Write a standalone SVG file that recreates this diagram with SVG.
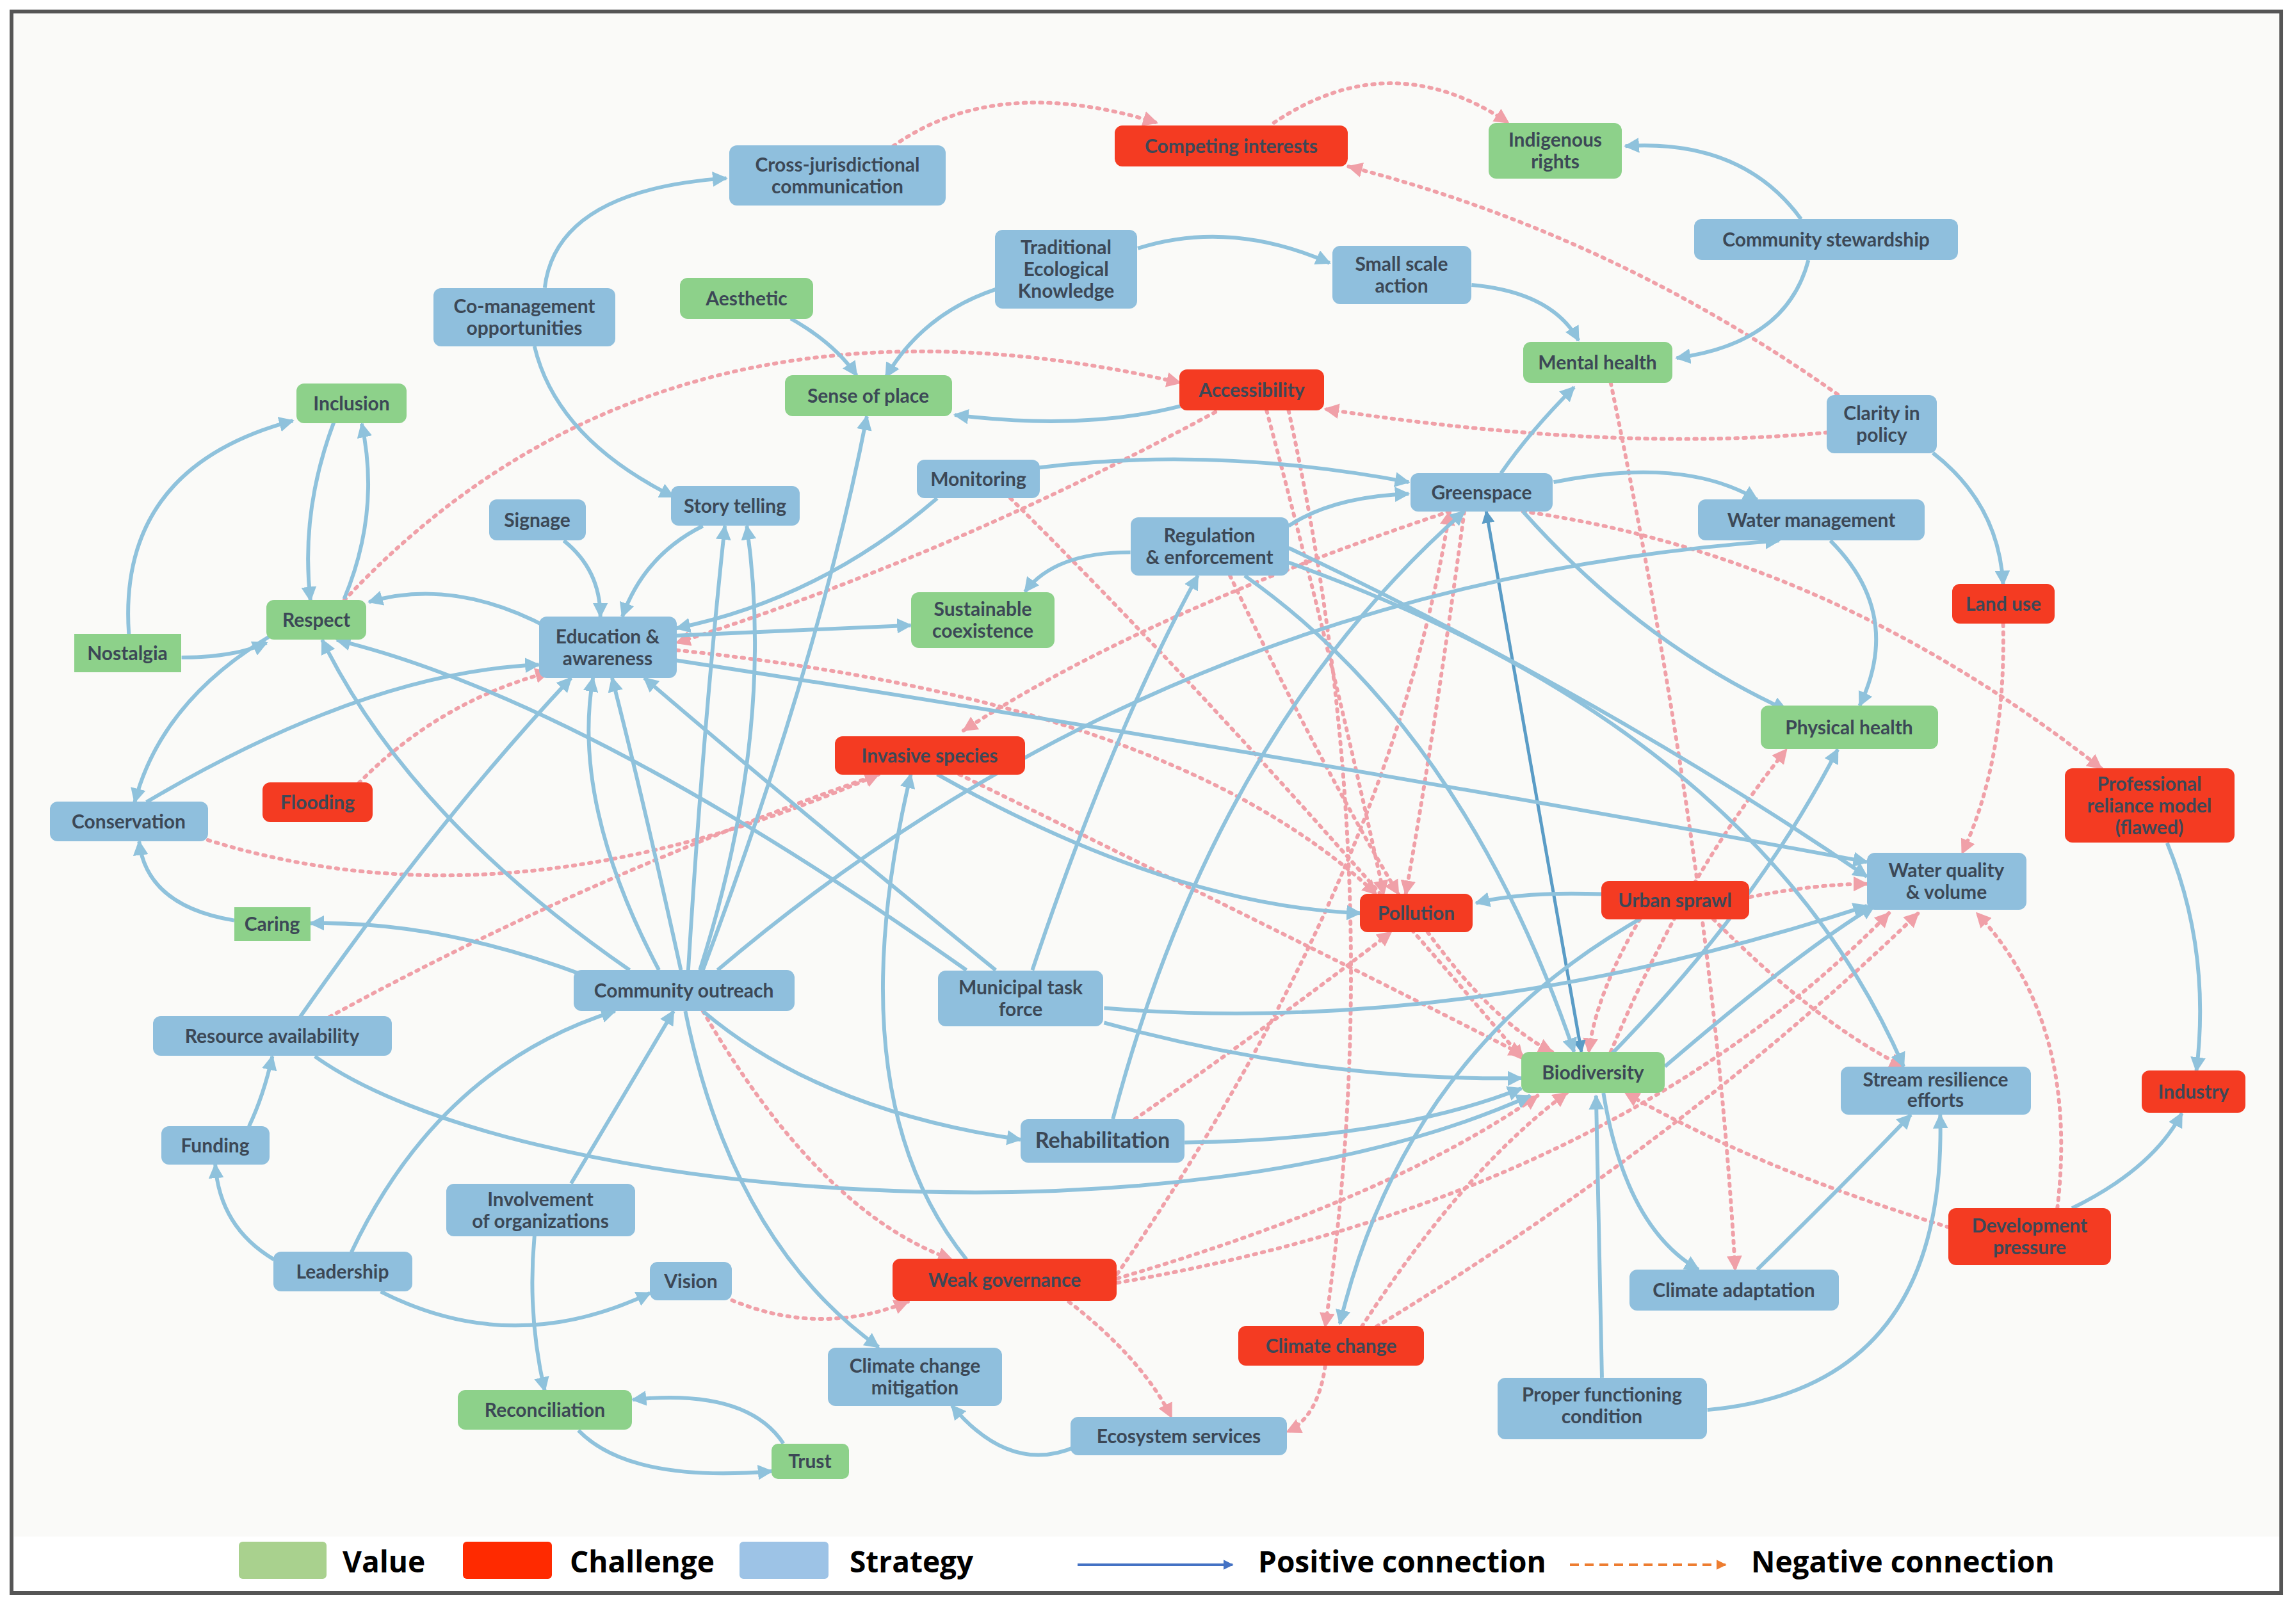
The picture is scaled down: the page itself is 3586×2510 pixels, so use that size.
<svg xmlns="http://www.w3.org/2000/svg" width="3586" height="2510" viewBox="0 0 3586 2510">
<style>
.v{fill:#8dd18a}.c{fill:#f43b22}.s{fill:#8fbfdd}
.t{font-family:Lato,"Open Sans",sans-serif;font-weight:bold;font-size:30px;fill:#3c4856;text-anchor:middle}
.p{fill:none;stroke:#8fc2dc;stroke-width:2.6;marker-end:url(#ab)}
.n{fill:none;stroke:#f0a0a8;stroke-width:2.6;stroke-dasharray:1.6 4;stroke-linecap:round;marker-end:url(#ar)}
.lg{font-family:"Open Sans",sans-serif;font-weight:bold;font-size:46px;fill:#000}
</style>
<defs>
<marker id="ab" viewBox="0 0 10 10" refX="9" refY="5" markerWidth="4" markerHeight="4" orient="auto"><path d="M0,0L10,5L0,10z" fill="#8fc2dc"/></marker>
<marker id="ar" viewBox="0 0 10 10" refX="9" refY="5" markerWidth="4" markerHeight="4" orient="auto"><path d="M0,0L10,5L0,10z" fill="#f0a0a8"/></marker>
<marker id="ad" viewBox="0 0 10 10" refX="9" refY="5" markerWidth="4" markerHeight="4" orient="auto-start-reverse"><path d="M0,0L10,5L0,10z" fill="#5a9cc6"/></marker>
<marker id="lb" viewBox="0 0 10 10" refX="9" refY="5" markerWidth="4" markerHeight="4" orient="auto"><path d="M0,0L10,5L0,10z" fill="#4472c4"/></marker>
<marker id="lo" viewBox="0 0 10 10" refX="9" refY="5" markerWidth="4" markerHeight="4" orient="auto"><path d="M0,0L10,5L0,10z" fill="#ed7d31"/></marker>
</defs>
<rect x="0" y="0" width="3586" height="2510" fill="#fff"/>
<rect x="22" y="22" width="3538" height="2378" fill="#fafaf8"/>
<rect x="18" y="18" width="3545" height="2470" fill="none" stroke="#555" stroke-width="6"/>
<g id="connectors" transform="scale(2.287 2.282)">
<path class="n" d="M610,100 Q680,50 790,84"/>
<path class="n" d="M870,84 Q950,30 1030,84"/>
<path class="n" d="M1255,270 Q1100,160 921,114"/>
<path class="n" d="M1248,296 Q1100,310 905,280"/>
<path class="n" d="M235,411 Q450,180 806,262"/>
<path class="n" d="M830,282 Q650,380 462,440"/>
<path class="n" d="M865,281 Q910,450 945,612"/>
<path class="n" d="M880,281 Q950,600 905,908"/>
<path class="n" d="M245,536 Q300,480 375,460"/>
<path class="n" d="M142,575 Q350,640 600,530"/>
<path class="n" d="M225,696 Q400,600 600,530"/>
<path class="n" d="M990,350 Q780,420 658,500"/>
<path class="n" d="M462,445 Q800,480 940,612"/>
<path class="n" d="M690,341 Q850,500 1040,725"/>
<path class="n" d="M655,530 Q900,650 1040,722"/>
<path class="n" d="M840,394 Q900,520 955,612"/>
<path class="n" d="M763,872 Q950,600 990,350"/>
<path class="n" d="M763,878 Q1100,820 1290,625"/>
<path class="n" d="M763,875 Q950,820 1050,750"/>
<path class="n" d="M730,891 Q780,930 800,970"/>
<path class="n" d="M500,890 Q560,915 620,891"/>
<path class="n" d="M480,692 Q560,830 650,862"/>
<path class="n" d="M775,766 Q870,700 950,638"/>
<path class="n" d="M1100,262 Q1170,600 1185,869"/>
<path class="n" d="M1040,350 Q1250,380 1435,526"/>
<path class="n" d="M1368,427 Q1370,520 1340,584"/>
<path class="n" d="M1000,350 Q980,500 960,612"/>
<path class="n" d="M1405,827 Q1420,700 1350,625"/>
<path class="n" d="M1331,840 Q1200,800 1110,748"/>
<path class="n" d="M1195,614 Q1240,605 1275,605"/>
<path class="n" d="M1170,629 Q1240,700 1300,730"/>
<path class="n" d="M905,935 Q900,970 879,980"/>
<path class="n" d="M940,908 Q1150,780 1310,625"/>
<path class="n" d="M930,908 Q1000,800 1070,748"/>
<path class="n" d="M1120,629 Q1090,680 1085,720"/>
<path class="n" d="M975,638 Q1020,700 1060,720"/>
<path class="n" d="M1100,720 Q1150,600 1220,513"/>
<path class="p" d="M372,197 Q380,130 496,122"/>
<path class="p" d="M365,237 Q380,300 460,340"/>
<path class="p" d="M777,170 Q840,150 908,180"/>
<path class="p" d="M680,198 Q630,215 605,258"/>
<path class="p" d="M540,218 Q570,235 585,257"/>
<path class="p" d="M1005,195 Q1060,200 1078,233"/>
<path class="p" d="M1230,150 Q1190,95 1110,100"/>
<path class="p" d="M1235,178 Q1220,235 1145,245"/>
<path class="p" d="M806,278 Q740,295 652,284"/>
<path class="p" d="M1320,310 Q1365,345 1368,400"/>
<path class="p" d="M1025,324 Q1045,295 1075,265"/>
<path class="p" d="M710,320 Q830,305 962,330"/>
<path class="p" d="M1061,330 Q1150,312 1200,342"/>
<path class="p" d="M880,360 Q910,340 962,338"/>
<path class="p" d="M772,378 Q720,378 700,405"/>
<path class="p" d="M1250,370 Q1300,420 1270,483"/>
<path class="p" d="M1040,350 Q1120,440 1220,486"/>
<path d="M1015,350 L1080,720" fill="none" stroke="#5a9cc6" stroke-width="2.2" marker-start="url(#ad)" marker-end="url(#ad)"/>
<path class="p" d="M228,289 Q205,350 212,411"/>
<path class="p" d="M235,410 Q260,350 247,290"/>
<path class="p" d="M88,434 Q80,320 200,288"/>
<path class="p" d="M124,450 Q160,450 182,440"/>
<path class="p" d="M375,430 Q310,395 252,412"/>
<path class="p" d="M385,370 Q410,390 410,422"/>
<path class="p" d="M480,360 Q440,380 425,422"/>
<path class="p" d="M640,341 Q560,410 462,430"/>
<path class="p" d="M462,435 L622,428"/>
<path class="p" d="M462,452 Q900,520 1275,590"/>
<path class="p" d="M185,435 Q110,480 92,549"/>
<path class="p" d="M100,549 Q250,460 368,455"/>
<path class="p" d="M160,630 Q100,620 95,576"/>
<path class="p" d="M400,668 Q300,630 212,632"/>
<path class="p" d="M450,664 Q390,550 405,464"/>
<path class="p" d="M465,664 Q440,550 418,464"/>
<path class="p" d="M470,664 Q480,500 495,360"/>
<path class="p" d="M478,664 Q530,500 510,360"/>
<path class="p" d="M480,664 Q560,450 592,285"/>
<path class="p" d="M430,664 Q280,560 220,438"/>
<path class="p" d="M490,664 Q800,400 1215,370"/>
<path class="p" d="M480,692 Q560,760 697,780"/>
<path class="p" d="M468,692 Q500,850 600,922"/>
<path class="p" d="M660,664 Q400,480 230,438"/>
<path class="p" d="M680,664 Q540,550 440,464"/>
<path class="p" d="M705,664 Q760,500 818,394"/>
<path class="p" d="M754,690 Q1000,710 1275,620"/>
<path class="p" d="M754,700 Q900,740 1039,738"/>
<path class="p" d="M760,766 Q830,500 1000,350"/>
<path class="p" d="M809,782 Q950,780 1039,745"/>
<path class="p" d="M205,696 Q300,560 390,464"/>
<path class="p" d="M215,723 C350,820 800,860 1045,750"/>
<path class="p" d="M170,771 Q180,750 186,723"/>
<path class="p" d="M187,862 Q150,840 147,797"/>
<path class="p" d="M240,857 Q300,730 420,692"/>
<path class="p" d="M260,884 Q350,930 444,885"/>
<path class="p" d="M390,810 Q420,760 460,692"/>
<path class="p" d="M365,846 Q360,900 372,952"/>
<path class="p" d="M535,988 Q510,950 432,958"/>
<path class="p" d="M395,979 Q430,1015 527,1007"/>
<path class="p" d="M735,990 Q690,1010 650,962"/>
<path class="p" d="M660,862 Q570,750 622,530"/>
<path class="p" d="M850,394 Q1000,500 1075,720"/>
<path class="p" d="M880,385 Q1200,500 1300,730"/>
<path class="p" d="M880,375 Q1100,480 1275,600"/>
<path class="p" d="M1100,722 Q1200,620 1255,513"/>
<path class="p" d="M1120,629 Q960,720 915,906"/>
<path class="p" d="M1095,748 Q1110,840 1160,869"/>
<path class="p" d="M1200,869 Q1260,810 1305,763"/>
<path class="p" d="M1166,965 Q1330,950 1325,763"/>
<path class="p" d="M1094,943 L1090,750"/>
<path class="p" d="M640,530 Q800,620 929,625"/>
<path class="p" d="M1094,612 Q1040,610 1008,618"/>
<path class="p" d="M1480,577 Q1510,650 1500,733"/>
<path class="p" d="M1415,827 Q1470,800 1490,762"/>
<path class="p" d="M1137,730 Q1230,650 1280,620"/>
</g>
<g id="n-cross"><rect class="s" x="1139" y="227" width="338" height="94" rx="12"/><text class="t" x="1308" y="268">Cross-jurisdictional<tspan x="1308" dy="34">communication</tspan></text></g>
<g id="n-competing"><rect class="c" x="1741" y="196" width="364" height="64" rx="12"/><text class="t" x="1923" y="239">Competing interests</text></g>
<g id="n-indigenous"><rect class="v" x="2325" y="192" width="208" height="87" rx="12"/><text class="t" x="2429" y="229">Indigenous<tspan x="2429" dy="34">rights</tspan></text></g>
<g id="n-stewardship"><rect class="s" x="2646" y="342" width="412" height="64" rx="12"/><text class="t" x="2852" y="385">Community stewardship</text></g>
<g id="n-tek"><rect class="s" x="1554" y="359" width="222" height="123" rx="12"/><text class="t" x="1665" y="397">Traditional<tspan x="1665" dy="34">Ecological</tspan><tspan x="1665" dy="34">Knowledge</tspan></text></g>
<g id="n-small"><rect class="s" x="2081" y="384" width="217" height="91" rx="12"/><text class="t" x="2189" y="423">Small scale<tspan x="2189" dy="34">action</tspan></text></g>
<g id="n-aesthetic"><rect class="v" x="1062" y="434" width="208" height="64" rx="12"/><text class="t" x="1166" y="477">Aesthetic</text></g>
<g id="n-comgmt"><rect class="s" x="677" y="450" width="284" height="91" rx="12"/><text class="t" x="819" y="489">Co-management<tspan x="819" dy="34">opportunities</tspan></text></g>
<g id="n-mental"><rect class="v" x="2379" y="534" width="233" height="64" rx="12"/><text class="t" x="2495" y="577">Mental health</text></g>
<g id="n-inclusion"><rect class="v" x="463" y="599" width="172" height="62" rx="12"/><text class="t" x="549" y="641">Inclusion</text></g>
<g id="n-sense"><rect class="v" x="1226" y="586" width="261" height="64" rx="12"/><text class="t" x="1356" y="629">Sense of place</text></g>
<g id="n-access"><rect class="c" x="1842" y="577" width="226" height="64" rx="12"/><text class="t" x="1955" y="620">Accessibility</text></g>
<g id="n-clarity"><rect class="s" x="2853" y="617" width="172" height="91" rx="12"/><text class="t" x="2939" y="656">Clarity in<tspan x="2939" dy="34">policy</tspan></text></g>
<g id="n-monitoring"><rect class="s" x="1432" y="718" width="192" height="60" rx="12"/><text class="t" x="1528" y="759">Monitoring</text></g>
<g id="n-greenspace"><rect class="s" x="2203" y="739" width="222" height="60" rx="12"/><text class="t" x="2314" y="780">Greenspace</text></g>
<g id="n-signage"><rect class="s" x="764" y="780" width="151" height="64" rx="12"/><text class="t" x="839" y="823">Signage</text></g>
<g id="n-story"><rect class="s" x="1048" y="759" width="201" height="62" rx="12"/><text class="t" x="1148" y="801">Story telling</text></g>
<g id="n-watermgmt"><rect class="s" x="2652" y="780" width="354" height="64" rx="12"/><text class="t" x="2829" y="823">Water management</text></g>
<g id="n-regulation"><rect class="s" x="1766" y="808" width="247" height="91" rx="12"/><text class="t" x="1889" y="847">Regulation<tspan x="1889" dy="34">&amp; enforcement</tspan></text></g>
<g id="n-landuse"><rect class="c" x="3049" y="912" width="160" height="62" rx="12"/><text class="t" x="3129" y="954">Land use</text></g>
<g id="n-respect"><rect class="v" x="416" y="937" width="156" height="62" rx="12"/><text class="t" x="494" y="979">Respect</text></g>
<g id="n-nostalgia"><rect class="v" x="116" y="990" width="167" height="60"/><text class="t" x="199" y="1031">Nostalgia</text></g>
<g id="n-education"><rect class="s" x="842" y="963" width="215" height="96" rx="12"/><text class="t" x="949" y="1005">Education &amp;<tspan x="949" dy="34">awareness</tspan></text></g>
<g id="n-sustain"><rect class="v" x="1423" y="925" width="224" height="87" rx="12"/><text class="t" x="1535" y="962">Sustainable<tspan x="1535" dy="34">coexistence</tspan></text></g>
<g id="n-physical"><rect class="v" x="2750" y="1102" width="277" height="68" rx="12"/><text class="t" x="2888" y="1147">Physical health</text></g>
<g id="n-invasive"><rect class="c" x="1304" y="1150" width="297" height="60" rx="12"/><text class="t" x="1452" y="1191">Invasive species</text></g>
<g id="n-flooding"><rect class="c" x="410" y="1222" width="172" height="62" rx="12"/><text class="t" x="496" y="1264">Flooding</text></g>
<g id="n-conservation"><rect class="s" x="78" y="1252" width="247" height="62" rx="12"/><text class="t" x="201" y="1294">Conservation</text></g>
<g id="n-professional"><rect class="c" x="3225" y="1200" width="265" height="116" rx="12"/><text class="t" x="3357" y="1235">Professional<tspan x="3357" dy="34">reliance model</tspan><tspan x="3357" dy="34">(flawed)</tspan></text></g>
<g id="n-waterquality"><rect class="s" x="2916" y="1332" width="249" height="89" rx="12"/><text class="t" x="3040" y="1370">Water quality<tspan x="3040" dy="34">&amp; volume</tspan></text></g>
<g id="n-urban"><rect class="c" x="2501" y="1376" width="231" height="60" rx="12"/><text class="t" x="2616" y="1417">Urban sprawl</text></g>
<g id="n-pollution"><rect class="c" x="2124" y="1396" width="176" height="60" rx="12"/><text class="t" x="2212" y="1437">Pollution</text></g>
<g id="n-caring"><rect class="v" x="366" y="1417" width="119" height="53"/><text class="t" x="425" y="1454">Caring</text></g>
<g id="n-outreach"><rect class="s" x="896" y="1515" width="345" height="64" rx="12"/><text class="t" x="1068" y="1558">Community outreach</text></g>
<g id="n-municipal"><rect class="s" x="1465" y="1516" width="258" height="87" rx="12"/><text class="t" x="1594" y="1553">Municipal task<tspan x="1594" dy="34">force</tspan></text></g>
<g id="n-resource"><rect class="s" x="239" y="1587" width="373" height="62" rx="12"/><text class="t" x="425" y="1629">Resource availability</text></g>
<g id="n-biodiversity"><rect class="v" x="2376" y="1643" width="224" height="64" rx="12"/><text class="t" x="2488" y="1686">Biodiversity</text></g>
<g id="n-stream"><rect class="s" x="2875" y="1666" width="297" height="75" rx="12"/><text class="t" x="3023" y="1697">Stream resilience<tspan x="3023" dy="32">efforts</tspan></text></g>
<g id="n-industry"><rect class="c" x="3345" y="1672" width="162" height="66" rx="12"/><text class="t" x="3426" y="1716">Industry</text></g>
<g id="n-rehab"><rect class="s" x="1594" y="1748" width="256" height="68" rx="12"/><text class="t" x="1722" y="1793" style="font-size:34px">Rehabilitation</text></g>
<g id="n-funding"><rect class="s" x="252" y="1759" width="169" height="60" rx="12"/><text class="t" x="336" y="1800">Funding</text></g>
<g id="n-involvement"><rect class="s" x="697" y="1849" width="295" height="82" rx="12"/><text class="t" x="844" y="1884">Involvement<tspan x="844" dy="34">of organizations</tspan></text></g>
<g id="n-development"><rect class="c" x="3043" y="1887" width="254" height="89" rx="12"/><text class="t" x="3170" y="1925">Development<tspan x="3170" dy="34">pressure</tspan></text></g>
<g id="n-leadership"><rect class="s" x="427" y="1955" width="217" height="62" rx="12"/><text class="t" x="535" y="1997">Leadership</text></g>
<g id="n-vision"><rect class="s" x="1015" y="1971" width="128" height="60" rx="12"/><text class="t" x="1079" y="2012">Vision</text></g>
<g id="n-weak"><rect class="c" x="1394" y="1966" width="350" height="66" rx="12"/><text class="t" x="1569" y="2010">Weak governance</text></g>
<g id="n-adaptation"><rect class="s" x="2545" y="1983" width="327" height="64" rx="12"/><text class="t" x="2708" y="2026">Climate adaptation</text></g>
<g id="n-climate"><rect class="c" x="1934" y="2071" width="290" height="62" rx="12"/><text class="t" x="2079" y="2113">Climate change</text></g>
<g id="n-mitigation"><rect class="s" x="1293" y="2105" width="272" height="91" rx="12"/><text class="t" x="1429" y="2144">Climate change<tspan x="1429" dy="34">mitigation</tspan></text></g>
<g id="n-proper"><rect class="s" x="2339" y="2152" width="327" height="96" rx="12"/><text class="t" x="2502" y="2189">Proper functioning<tspan x="2502" dy="34">condition</tspan></text></g>
<g id="n-reconciliation"><rect class="v" x="715" y="2171" width="272" height="62" rx="12"/><text class="t" x="851" y="2213">Reconciliation</text></g>
<g id="n-ecosystem"><rect class="s" x="1672" y="2213" width="338" height="60" rx="12"/><text class="t" x="1841" y="2254">Ecosystem services</text></g>
<g id="n-trust"><rect class="v" x="1205" y="2255" width="121" height="55" rx="10"/><text class="t" x="1265" y="2293">Trust</text></g>
<g id="legend">
<rect x="373" y="2408" width="137" height="58" rx="6" fill="#a9d18e"/><text class="lg" x="535" y="2456">Value</text>
<rect x="723" y="2408" width="139" height="58" rx="6" fill="#ff2a00"/><text class="lg" x="890" y="2456">Challenge</text>
<rect x="1155" y="2408" width="139" height="58" rx="6" fill="#9dc3e6"/><text class="lg" x="1327" y="2456">Strategy</text>
<line x1="1683" y1="2444" x2="1925" y2="2444" stroke="#4472c4" stroke-width="4" marker-end="url(#lb)"/><text class="lg" x="1965" y="2456">Positive connection</text>
<line x1="2452" y1="2444" x2="2695" y2="2444" stroke="#ed7d31" stroke-width="4" stroke-dasharray="14 9" marker-end="url(#lo)"/><text class="lg" x="2735" y="2456">Negative connection</text>
</g>
</svg>
